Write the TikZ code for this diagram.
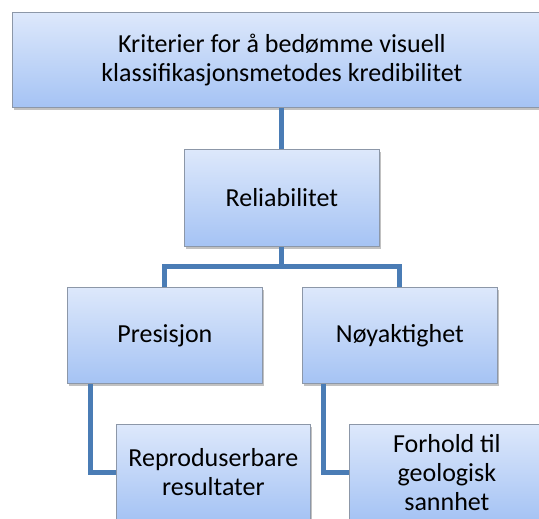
\documentclass[tikz,border=0pt]{standalone}
\usepackage{fontspec}
\setmainfont{Carlito}
\usetikzlibrary{shadows}
\definecolor{boxtop}{HTML}{DDE8FB}
\definecolor{boxbot}{HTML}{A5C3F4}
\definecolor{boxline}{HTML}{8C97A8}
\definecolor{conn}{HTML}{4A7CB5}
\tikzset{
  orgbox/.style={draw=boxline, line width=0.8pt, top color=boxtop, bottom color=boxbot,
    anchor=north west, inner sep=0pt, align=center, text=black,
    font=\fontsize{26}{29}\selectfont,
    drop shadow={shadow xshift=2pt, shadow yshift=-2.5pt, opacity=0.35, fill=black!70}},
  conline/.style={draw=conn, line width=5pt, line join=miter}
}
\begin{document}
\begin{tikzpicture}[x=1pt,y=-1pt]
\useasboundingbox (0,0) rectangle (539,519);
\node[orgbox, minimum width=539pt, minimum height=95pt] (top) at (12,12)
  {Kriterier for å bedømme visuell\\klassifikasjonsmetodes kredibilitet};
\node[orgbox, minimum width=195pt, minimum height=97pt] (rel) at (184,149) {Reliabilitet};
\node[orgbox, minimum width=195pt, minimum height=96pt] (pre) at (67,287) {Presisjon};
\node[orgbox, minimum width=195pt, minimum height=96pt] (noy) at (302,287) {Nøyaktighet};
\node[orgbox, minimum width=194pt, minimum height=96pt] (rep) at (116,424) {Reproduserbare\\resultater};
\node[orgbox, minimum width=195pt, minimum height=96pt] (for) at (349,424) {Forhold til\\geologisk\\sannhet};
\draw[conline] (top.south -| rel.north) -- (rel.north);
\draw[conline] (rel.south) -- (rel.south |- 0,266) -| (pre.north);
\draw[conline] (rel.south |- 0,266) -| (noy.north);
\draw[conline] (pre.south -| 90,0) |- (rep.west);
\draw[conline] (noy.south -| 323,0) |- (for.west);
\end{tikzpicture}
\end{document}
